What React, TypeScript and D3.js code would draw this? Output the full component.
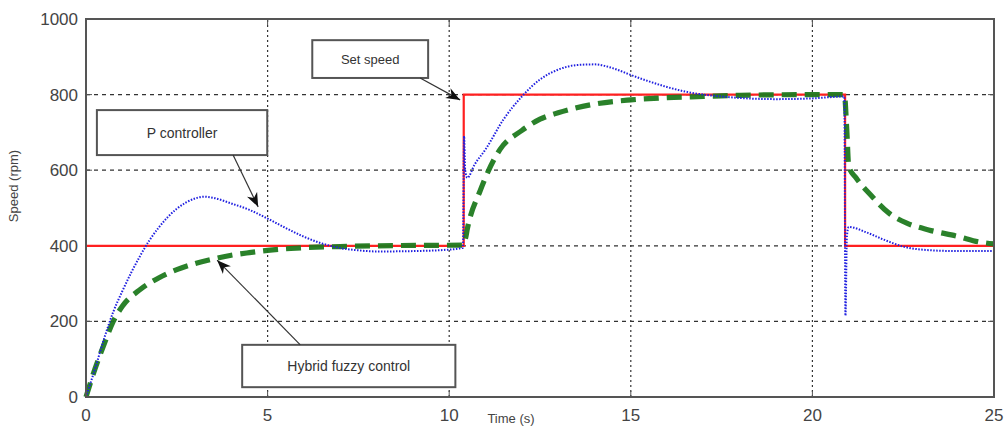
import React, { useEffect, useRef } from 'react'
import * as d3 from 'd3'

// set speed reference (step changes)
const setTime = [0, 10.4, 10.4, 20.9, 20.9, 25]
const setSpeed = [400, 400, 800, 800, 400, 400]

// P controller response (blue dotted)
const pTime = [0, 0.25, 0.5, 0.75, 1, 1.25, 1.5, 1.75, 2, 2.5, 3, 3.25, 3.5, 4, 4.5, 5, 5.5, 6, 6.5, 7, 7.5, 8, 9, 10, 10.38, 10.41, 10.44, 10.5, 10.7, 11, 11.5, 12, 12.5, 13, 13.5, 14, 14.5, 15, 15.5, 16, 16.5, 17, 17.5, 18, 19, 20, 20.88, 20.91, 20.95, 21, 21.5, 22, 22.5, 23, 24, 25]
const pSpeed = [0, 75, 155, 225, 280, 330, 375, 415, 448, 498, 525, 530, 527, 512, 495, 472, 447, 424, 406, 394, 388, 385, 386, 390, 395, 690, 600, 580, 615, 655, 735, 795, 840, 866, 878, 880, 870, 852, 835, 820, 808, 800, 795, 791, 788, 790, 795, 215, 425, 450, 435, 415, 398, 390, 386, 386]

// hybrid fuzzy control response (green dashed)
const hTime = [0, 0.25, 0.5, 0.75, 1, 1.5, 2, 2.5, 3, 3.5, 4, 4.5, 5, 6, 7, 8, 10.38, 10.45, 10.5, 10.85, 11.4, 12, 12.5, 13, 14, 15, 16, 17, 18, 20, 20.88, 20.95, 21, 21.2, 21.6, 22.1, 22.6, 23.2, 24, 24.6, 25]
const hSpeed = [0, 75, 140, 200, 240, 285, 315, 337, 353, 365, 375, 382, 388, 395, 398, 400, 402, 420, 445, 545, 655, 705, 735, 752, 775, 786, 792, 795, 798, 800, 800, 700, 610, 580, 535, 487, 460, 442, 425, 410, 405]

const xTicks = [0, 5, 10, 15, 20, 25]
const yTicks = [0, 200, 400, 600, 800, 1000]

// annotation boxes in data units: [t0, t1, v0, v1], arrow [tailT, tailV, headT, headV]
const notes = [
  { label: 'Set speed', box: [6.23, 9.42, 944, 844], arrow: [9.2, 844, 10.3, 786], size: 13 },
  { label: 'P controller', box: [0.3, 4.99, 759, 640], arrow: [4.05, 640, 4.74, 503], size: 14 },
  { label: 'Hybrid fuzzy control', box: [4.3, 10.17, 138, 26], arrow: [5.9, 138, 3.61, 362], size: 14 },
]

const W = 1006
const H = 430
const margin = { left: 86, right: 12, top: 19, bottom: 33 }

export default function App() {
  const ref = useRef<SVGSVGElement>(null)

  useEffect(() => {
    const svg = d3.select(ref.current)
    svg.selectAll('*').remove()

    const x = d3.scaleLinear().domain([0, 25]).range([margin.left, W - margin.right])
    const y = d3.scaleLinear().domain([0, 1000]).range([H - margin.bottom, margin.top])
    const font = 'Liberation Sans, Arial, sans-serif'

    svg.append('defs').append('marker')
      .attr('id', 'head')
      .attr('viewBox', '0 0 10 10')
      .attr('refX', 10).attr('refY', 5)
      .attr('markerWidth', 14).attr('markerHeight', 14)
      .attr('markerUnits', 'userSpaceOnUse')
      .attr('orient', 'auto')
      .append('path').attr('d', 'M0,1 L10,5 L0,9 L3,5 Z').attr('fill', '#111')

    const g = svg.append('g')

    // grid
    g.selectAll('.vg').data(xTicks.slice(1, -1)).enter().append('line')
      .attr('x1', (d) => x(d)).attr('x2', (d) => x(d))
      .attr('y1', y(0)).attr('y2', y(1000))
      .attr('stroke', '#333').attr('stroke-dasharray', '2,3').attr('stroke-width', 1.2)
    g.selectAll('.hg').data(yTicks.slice(1, -1)).enter().append('line')
      .attr('x1', x(0)).attr('x2', x(25))
      .attr('y1', (d) => y(d)).attr('y2', (d) => y(d))
      .attr('stroke', '#333').attr('stroke-dasharray', '4,4').attr('stroke-width', 1.2)

    // ticks inward on all sides
    xTicks.forEach((t) => {
      g.append('line').attr('x1', x(t)).attr('x2', x(t)).attr('y1', y(0)).attr('y2', y(0) - 6).attr('stroke', '#555')
      g.append('line').attr('x1', x(t)).attr('x2', x(t)).attr('y1', y(1000)).attr('y2', y(1000) + 6).attr('stroke', '#555')
    })
    yTicks.forEach((v) => {
      g.append('line').attr('x1', x(0)).attr('x2', x(0) + 6).attr('y1', y(v)).attr('y2', y(v)).attr('stroke', '#555')
      g.append('line').attr('x1', x(25)).attr('x2', x(25) - 6).attr('y1', y(v)).attr('y2', y(v)).attr('stroke', '#555')
    })

    // tick labels
    g.selectAll('.xl').data(xTicks).enter().append('text')
      .attr('x', (d) => x(d)).attr('y', y(0) + 24)
      .attr('text-anchor', 'middle').attr('font-family', font).attr('font-size', 17)
      .attr('fill', '#444').text((d) => d)
    g.selectAll('.yl').data(yTicks).enter().append('text')
      .attr('x', x(0) - 8).attr('y', (d) => y(d) + 6)
      .attr('text-anchor', 'end').attr('font-family', font).attr('font-size', 17)
      .attr('fill', '#444').text((d) => d)

    // axis titles
    g.append('text')
      .attr('x', 511).attr('y', 423)
      .attr('text-anchor', 'middle').attr('font-family', font).attr('font-size', 13)
      .attr('fill', '#444').text('Time (s)')
    g.append('text')
      .attr('transform', `translate(18, ${186}) rotate(-90)`)
      .attr('text-anchor', 'middle').attr('font-family', font).attr('font-size', 13)
      .attr('fill', '#444').text('Speed (rpm)')

    // series
    const line = d3.line<number>().curve(d3.curveMonotoneX)
    const mk = (ts: number[], vs: number[]) =>
      line.x((_, i) => x(ts[i])).y((_, i) => y(vs[i]))(ts)

    g.append('path')
      .attr('d', d3.line<number>().x((_, i) => x(setTime[i])).y((_, i) => y(setSpeed[i]))(setTime))
      .attr('fill', 'none').attr('stroke', '#ff2020').attr('stroke-width', 2.2)

    g.append('path').attr('d', mk(hTime, hSpeed))
      .attr('fill', 'none').attr('stroke', '#1f7a1f').attr('stroke-width', 5.2)
      .attr('stroke-dasharray', '15,8').attr('opacity', 0.95)

    g.append('path').attr('d', mk(pTime, pSpeed))
      .attr('fill', 'none').attr('stroke', '#2020e0').attr('stroke-width', 2)
      .attr('stroke-dasharray', '1.5,1.5')

    // frame
    g.append('rect')
      .attr('x', x(0)).attr('y', y(1000))
      .attr('width', x(25) - x(0)).attr('height', y(0) - y(1000))
      .attr('fill', 'none').attr('stroke', '#555').attr('stroke-width', 2)

    // annotations
    notes.forEach((n) => {
      const [t0, t1, v0, v1] = n.box
      g.append('rect')
        .attr('x', x(t0)).attr('y', y(v0))
        .attr('width', x(t1) - x(t0)).attr('height', y(v1) - y(v0))
        .attr('fill', 'white').attr('stroke', '#555').attr('stroke-width', 2)
      g.append('text')
        .attr('x', (x(t0) + x(t1)) / 2).attr('y', (y(v0) + y(v1)) / 2 + 5)
        .attr('text-anchor', 'middle').attr('font-family', font).attr('font-size', n.size)
        .attr('fill', '#333').text(n.label)
      const [at, av, ht, hv] = n.arrow
      g.append('line')
        .attr('x1', x(at)).attr('y1', y(av)).attr('x2', x(ht)).attr('y2', y(hv))
        .attr('stroke', '#333').attr('stroke-width', 1.2)
        .attr('marker-end', 'url(#head)')
    })
  }, [])

  return (
    <svg
      ref={ref}
      width={W}
      height={H}
      style={{ position: 'absolute', left: 0, top: 0, background: 'white' }}
    />
  )
}
